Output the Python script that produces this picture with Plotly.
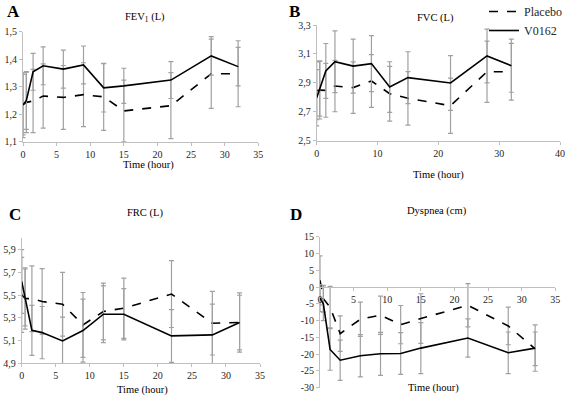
import plotly.graph_objects as go

# ---------------- data ----------------
times = [0, 0.5, 1.5, 3, 6, 9, 12, 15, 22, 28, 32]

fev_v0162 = [1.233, 1.25, 1.354, 1.376, 1.364, 1.379, 1.296, 1.303, 1.324, 1.412, 1.373]
fev_v0162_err = [0.118, 0.105, 0.067, 0.069, 0.069, 0.069, 0.088, 0.064, 0.067, 0.07, 0.07]
fev_placebo = [1.235, 1.243, 1.248, 1.266, 1.261, 1.271, 1.263, 1.212, 1.231, 1.347, 1.347]
fev_placebo_err = [0.11, 0.11, 0.115, 0.117, 0.116, 0.116, 0.122, 0.112, 0.12, 0.126, 0.12]

fvc_v0162 = [2.797, 2.86, 2.982, 3.046, 3.016, 3.033, 2.871, 2.936, 2.899, 3.086, 3.019]
fvc_v0162_err = [0.195, 0.19, 0.19, 0.214, 0.187, 0.193, 0.175, 0.179, 0.189, 0.186, 0.184]
fvc_placebo = [2.845, 2.85, 2.848, 2.878, 2.867, 2.913, 2.825, 2.793, 2.742, 2.977, 2.977]
fvc_placebo_err = [0.2, 0.2, 0.186, 0.178, 0.178, 0.182, 0.189, 0.185, 0.191, 0.212, 0.196]

frc_v0162 = [5.62, 5.48, 5.19, 5.17, 5.097, 5.188, 5.332, 5.332, 5.141, 5.15, 5.259]
frc_v0162_err = [0.28, 0.25, 0.22, 0.23, 0.21, 0.277, 0.25, 0.226, 0.232, 0.27, 0.26]
frc_placebo = [5.503, 5.47, 5.468, 5.444, 5.42, 5.238, 5.356, 5.385, 5.509, 5.253, 5.259]
frc_placebo_err = [0.33, 0.27, 0.29, 0.29, 0.28, 0.285, 0.25, 0.265, 0.294, 0.28, 0.24]

dys_v0162 = [-3.3, -5.0, -18.6, -21.8, -20.5, -19.9, -19.8, -18.2, -15.2, -19.6, -18.2]
dys_v0162_err = [4.0, 5.0, 6.2, 6.0, 6.3, 6.4, 6.2, 7.6, 5.7, 6.2, 6.9]
dys_placebo = [2.0, -3.5, -6.0, -13.9, -9.6, -8.4, -11.2, -9.4, -5.45, -11.6, -18.4]
dys_placebo_err = [7.3, 4.0, 6.2, 5.3, 5.1, 5.7, 5.7, 7.4, 6.45, 5.6, 5.0]

panel_letters = ["A", "B", "C", "D"]
panel_titles = ["FEV<sub>1</sub> (L)", "FVC (L)", "FRC (L)", "Dyspnea (cm)"]
x_title = "Time (hour)"
series_names = ["Placebo", "V0162"]

dys_ticks = [-30, -25, -20, -15, -10, -5, 0, 5, 10, 15]
dys_ticktext = ["-30", "-25", "-20", "-15", "-10", "-5", "0", "5", "10", "15"]
dys_xticks = [0, 5, 10, 15, 20, 25, 30, 35]

# ---------------- layout helpers ----------------
W, H = 568, 397
FONT = "Liberation Serif"
AXC = "#bfbfbf"
ERRC = "#a0a0a0"
TXT = "#262626"
TICKSIZE = 10


def px_dom_x(a, b):
    return [a / W, b / W]


def px_dom_y(top, bottom):
    return [1 - bottom / H, 1 - top / H]


panels = [
    dict(data=(fev_placebo, fev_placebo_err, fev_v0162, fev_v0162_err),
         xd=px_dom_x(23, 258.3), yd=px_dom_y(31.7, 141.7),
         xr=[0, 35], xdt=5, yr=[1.1, 1.5], ydt=0.1, yfmt=".1f"),
    dict(data=(fvc_placebo, fvc_placebo_err, fvc_v0162, fvc_v0162_err),
         xd=px_dom_x(316.7, 560), yd=px_dom_y(25, 140.7),
         xr=[0, 40], xdt=10, yr=[2.5, 3.3], ydt=0.2, yfmt=".1f"),
    dict(data=(frc_placebo, frc_placebo_err, frc_v0162, frc_v0162_err),
         xd=px_dom_x(21.7, 260), yd=px_dom_y(238.3, 363.3),
         xr=[0, 35], xdt=5, yr=[4.9, 6.0], ydt=0.2, yfmt=".1f"),
    dict(data=(dys_placebo, dys_placebo_err, dys_v0162, dys_v0162_err),
         xd=px_dom_x(320, 555.3), yd=px_dom_y(236.7, 387.7),
         xr=[0, 35], xdt=5, yr=[-30, 15], ydt=5, yfmt=""),
]

fig = go.Figure()
layout = dict(
    template="none",
    width=W, height=H,
    margin=dict(l=0, r=0, t=0, b=0, pad=0, autoexpand=False),
    paper_bgcolor="white", plot_bgcolor="white",
    separators=", ",
    font=dict(family=FONT, size=10, color=TXT),
    showlegend=True,
    legend=dict(x=484 / W, xanchor="left", y=1.0 + 3 / H, yanchor="top",
                font=dict(family=FONT, size=12, color=TXT),
                bgcolor="rgba(0,0,0,0)", itemwidth=30,
                tracegroupgap=0, borderwidth=0),
)

annotations = []
for i, p in enumerate(panels):
    n = i + 1
    xa = "x" if n == 1 else f"x{n}"
    ya = "y" if n == 1 else f"y{n}"
    pl, ple, vv, vve = p["data"]
    for name, vals, errs, dash in [(series_names[0], pl, ple, "dash"),
                                   (series_names[1], vv, vve, "solid")]:
        fig.add_trace(go.Scatter(
            x=times, y=vals, mode="lines", name=name,
            line=dict(color="black", width=1.6, dash=dash),
            error_y=dict(type="data", array=errs, visible=True,
                         color=ERRC, thickness=1.2, width=2.5),
            xaxis=xa, yaxis=ya, showlegend=(n == 2), cliponaxis=False,
        ))

    xkey = "xaxis" if n == 1 else f"xaxis{n}"
    ykey = "yaxis" if n == 1 else f"yaxis{n}"
    xaxis = dict(domain=p["xd"], range=p["xr"], dtick=p["xdt"], tick0=0,
                 showgrid=False, zeroline=False, showline=True, linecolor=AXC,
                 linewidth=1, ticks="outside", tickcolor=AXC, ticklen=3,
                 tickfont=dict(family=FONT, size=TICKSIZE, color=TXT),
                 fixedrange=True, automargin=False)
    yaxis = dict(domain=p["yd"], range=p["yr"], showgrid=False, zeroline=False,
                 showline=True, linecolor=AXC, linewidth=1, ticks="outside",
                 tickcolor=AXC, ticklen=3,
                 tickfont=dict(family=FONT, size=TICKSIZE, color=TXT),
                 fixedrange=True, anchor=xa, automargin=False)
    if n == 4:
        yaxis.update(tickmode="array", tickvals=dys_ticks, ticktext=dys_ticktext)
        # x axis crosses the y axis at 0
        frac = (0 - p["yr"][0]) / (p["yr"][1] - p["yr"][0])
        pos = p["yd"][0] + frac * (p["yd"][1] - p["yd"][0])
        xaxis.update(anchor="free", position=pos, layer="above traces",
                     tickmode="array", tickvals=dys_xticks)
    else:
        yaxis.update(dtick=p["ydt"], tick0=p["yr"][0], tickformat=p["yfmt"])
        xaxis.update(anchor=ya)
    layout[xkey] = xaxis
    layout[ykey] = yaxis


def ann(text, xp, yp, size=10, bold=False, xanchor="center"):
    t = f"<b>{text}</b>" if bold else text
    annotations.append(dict(text=t, x=xp / W, y=1 - yp / H, xref="paper",
                            yref="paper", showarrow=False, xanchor=xanchor,
                            yanchor="middle",
                            font=dict(family=FONT, size=size, color="black")))


letter_pos = [(5, 12), (287, 12), (7, 214), (288, 214)]
title_pos = [(145, 18), (435, 18), (145, 213), (437, 211)]
xt_pos = [(148, 165), (438, 175), (142, 390), (433, 388)]
for i in range(4):
    ann(panel_letters[i], *letter_pos[i], size=17, bold=True, xanchor="left")
    ann(panel_titles[i], *title_pos[i], size=10.5)
    ann(x_title, *xt_pos[i], size=10.5)

layout["annotations"] = annotations
fig.update_layout(**layout)
fig.write_html("out.html",
               config={"displayModeBar": False, "staticPlot": True},
               post_script="document.body.style.margin='0';"
                           "document.body.style.padding='0';")
